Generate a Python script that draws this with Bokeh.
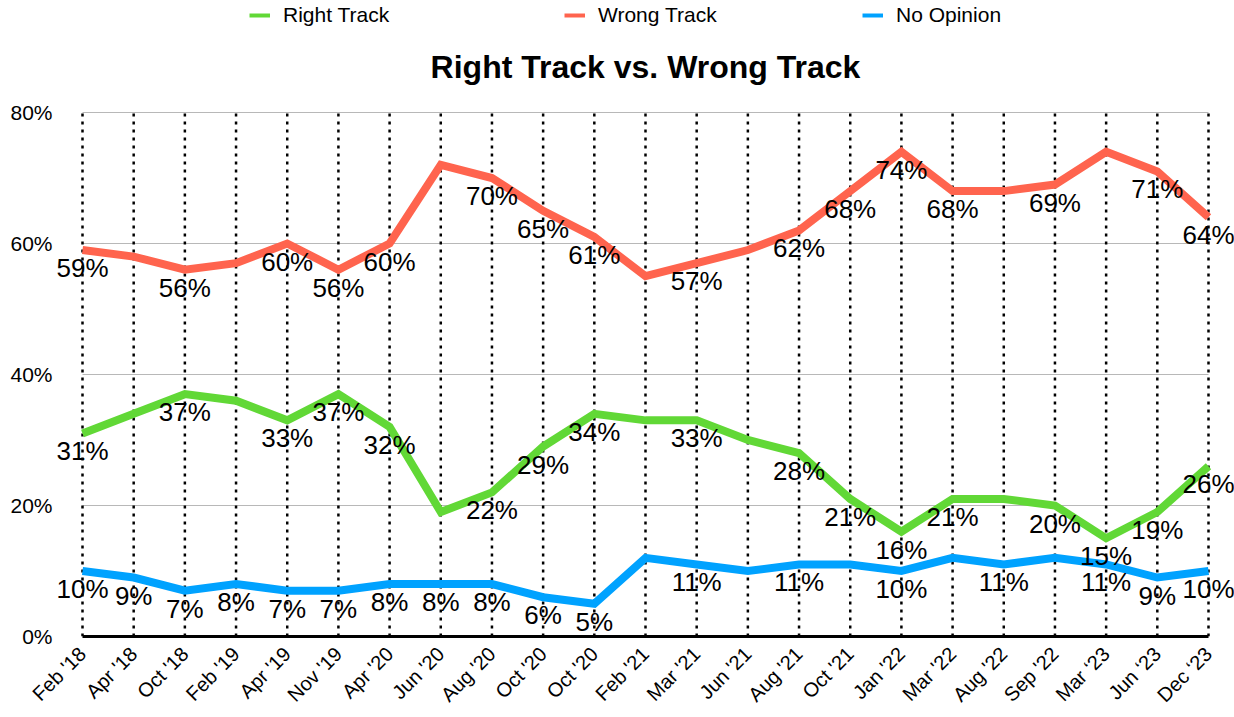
from bokeh.plotting import figure
from bokeh.models import (ColumnDataSource, LabelSet, Label, Legend, LegendItem, Range1d,
                          FixedTicker, PrintfTickFormatter)
from bokeh.core.properties import value
from bokeh.embed import file_html
from bokeh.resources import INLINE

categories = ["Feb '18", "Apr '18", "Oct '18", "Feb '19", "Apr '19", "Nov '19", "Apr '20",
              "Jun '20", "Aug '20", "Oct '20", "Oct '20", "Feb '21", "Mar '21", "Jun '21",
              "Aug '21", "Oct '21", "Jan '22", "Mar '22", "Aug '22", "Sep '22",
              "Mar \u201823", "Jun \u201823", "Dec \u201823"]
right_track = [31, 34, 37, 36, 33, 37, 32, 19, 22, 29, 34, 33, 33, 30, 28, 21, 16, 21, 21, 20, 15, 19, 26]
wrong_track = [59, 58, 56, 57, 60, 56, 60, 72, 70, 65, 61, 55, 57, 59, 62, 68, 74, 68, 68, 69, 74, 71, 64]
no_opinion = [10, 9, 7, 8, 7, 7, 8, 8, 8, 6, 5, 12, 11, 10, 11, 11, 10, 12, 11, 12, 11, 9, 10]
# which value labels are displayed in the original
right_shown = [1, 0, 1, 0, 1, 1, 1, 0, 1, 1, 1, 0, 1, 0, 1, 1, 1, 1, 0, 1, 1, 1, 1]
wrong_shown = [1, 0, 1, 0, 1, 1, 1, 0, 1, 1, 1, 0, 1, 0, 1, 1, 1, 1, 0, 1, 0, 1, 1]
none_shown = [1, 1, 1, 1, 1, 1, 1, 1, 1, 1, 1, 0, 1, 0, 1, 0, 1, 0, 1, 0, 1, 1, 1]
y_ticks = [0, 20, 40, 60, 80]

series_names = ["Right Track", "Wrong Track", "No Opinion"]
colors = ["#61D836", "#FF644E", "#00A2FF"]
title_text = "Right Track vs. Wrong Track"
FONT = "Liberation Sans"

xs = list(range(len(categories)))
n_last = len(categories) - 1

# layout geometry (pixels)
W, H = 1234, 717
frame_left, frame_bottom = 55, 636
x0_px, x1_px = 82, 1208          # pixel of first / last category
y80_px = 112                     # pixel of the 80% line
ppx = (x1_px - x0_px) / n_last
ppy = (frame_bottom - y80_px) / y_ticks[-1]
x_start = -(x0_px - frame_left) / ppx
x_end = n_last + (W - x1_px) / ppx
y_end = frame_bottom / ppy

p = figure(width=W, height=H, output_backend="svg", toolbar_location=None,
           x_range=Range1d(x_start, x_end), y_range=Range1d(0, y_end),
           min_border_left=frame_left, min_border_right=0, min_border_top=0,
           min_border_bottom=H - frame_bottom)

p.outline_line_color = None
p.background_fill_color = "white"
p.border_fill_color = "white"
p.xgrid.visible = False
p.ygrid.visible = False

# axes
p.xaxis.ticker = FixedTicker(ticks=xs)
p.xaxis.major_label_overrides = {i: c for i, c in enumerate(categories)}
p.xaxis.major_label_orientation = 0.7854
p.xaxis.major_label_text_font = FONT
p.xaxis.major_label_text_font_size = "20px"
p.xaxis.major_label_text_color = "black"
p.xaxis.major_label_standoff = 14
p.xaxis.major_tick_out = 0
p.xaxis.major_tick_in = 0
p.xaxis.major_tick_line_color = None
p.xaxis.minor_tick_line_color = None
p.xaxis.axis_line_color = "black"
p.xaxis.axis_line_width = 3
p.xaxis.bounds = (0, n_last)

p.yaxis.ticker = FixedTicker(ticks=y_ticks)
p.yaxis.formatter = PrintfTickFormatter(format="%d%%")
p.yaxis.major_label_text_font = FONT
p.yaxis.major_label_text_font_size = "21px"
p.yaxis.major_label_text_color = "black"
p.yaxis.major_label_standoff = 3
p.yaxis.major_tick_out = 0
p.yaxis.major_tick_in = 0
p.yaxis.major_tick_line_color = None
p.yaxis.minor_tick_line_color = None
p.yaxis.axis_line_color = None

# horizontal grid lines (between first and last category) and dotted verticals
gy = y_ticks[1:]
p.segment(x0=[0] * len(gy), x1=[n_last] * len(gy), y0=gy, y1=gy,
          line_color="#b8b8b8", line_width=1)
p.segment(x0=xs, x1=xs, y0=[0] * len(xs), y1=[y_ticks[-1]] * len(xs),
          line_color="black", line_width=2.5, line_dash="3 5")

all_values = [right_track, wrong_track, no_opinion]
all_shown = [right_shown, wrong_shown, none_shown]

legend_renderers = []
for name, vals, shown, col in zip(series_names, all_values, all_shown, colors):
    src = ColumnDataSource(dict(x=xs, y=vals))
    p.line("x", "y", source=src, line_color=col, line_width=8, line_join="miter")
    lab_src = ColumnDataSource(dict(
        x=[x for x, s in zip(xs, shown) if s],
        y=[v for v, s in zip(vals, shown) if s],
        t=[f"{v}%" for v, s in zip(vals, shown) if s]))
    labels = LabelSet(x="x", y="y", text="t", source=lab_src, y_offset=-18,
                      text_align="center", text_baseline="middle",
                      text_font=value(FONT), text_font_size=value("26px"),
                      text_color="black")
    p.add_layout(labels)
    # thinner, hidden copy of the series used only for the legend swatch
    lr = p.line("x", "y", source=src, line_color=col, line_width=4, visible=False)
    legend_renderers.append(lr)

# title
p.add_layout(Label(x=n_last / 2, y=frame_bottom - 66.5, x_units="data", y_units="screen",
                   text=title_text, text_align="center", text_baseline="middle",
                   text_font=FONT, text_font_size="32px", text_font_style="bold",
                   text_color="black"))

# legend (three entries placed across the top); location = bottom-left corner
legend_px = [249, 564, 862]
for name, lr, lx in zip(series_names, legend_renderers, legend_px):
    lg = Legend(items=[LegendItem(label=name, renderers=[lr])],
                location=(lx - frame_left, frame_bottom - 27),
                orientation="horizontal", padding=0, margin=0, border_line_color=None,
                background_fill_alpha=0, label_text_font=FONT, label_text_font_size="21px",
                label_text_color="black", glyph_width=21, glyph_height=20,
                label_standoff=13, label_height=20, click_policy="none",
                inactive_fill_alpha=0)
    p.add_layout(lg, "center")

open("out.html", "w").write(file_html(p, INLINE))
